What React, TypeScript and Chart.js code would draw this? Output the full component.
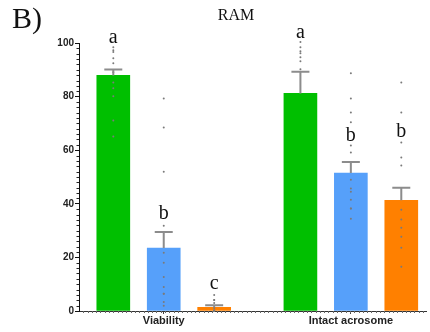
import React, { useEffect, useRef } from "react";
import { Chart, registerables } from "chart.js";

Chart.register(...registerables);

// ---- data ----
const categories = ["Viability", "Intact acrosome"];
const seriesColors = ["#00bf00", "#56a0fa", "#ff8000"];

const greenMean = [87.9, 81.2];
const blueMean = [23.5, 51.5];
const orangeMean = [1.4, 41.3];

const greenSem = [2.2, 8.1];
const blueSem = [6.0, 4.1];
const orangeSem = [0.7, 4.7];

const greenLetters = ["a", "a"];
const blueLetters = ["b", "b"];
const orangeLetters = ["c", "b"];
const greenLetterAt = [99.9, 102];
const blueLetterAt = [34.4, 63.4];
const orangeLetterAt = [8.2, 65];

const greenViabilityPts = [98.4, 97.3, 96.6, 94.3, 92.4, 89.1, 85.3, 83.1, 80.1, 71.1, 65.1];
const blueViabilityPts = [79.3, 68.5, 52.0, 31.8, 21.7, 18.0, 12.7, 9.0, 6.4, 6.4, 3.4, 2.0];
const orangeViabilityPts = [6.0, 4.1, 4.1, 3.0, 1.1, 0.3, 0, 0, 0];
const greenAcrosomePts = [100.4, 98.4, 96.9, 96.2, 94.7, 93.2, 90.2];
const blueAcrosomePts = [88.7, 79.3, 74.1, 70.4, 61.8, 59.1, 49.0, 45.7, 44.5, 41.5, 38.2, 38.2, 34.4];
const orangeAcrosomePts = [85.3, 74.1, 62.9, 57.3, 54.3, 37.8, 34.1, 31.1, 27.7, 23.6, 16.5];

const yTicks = [0, 20, 40, 60, 80, 100];

// x layout in data units (bar slots)
const GROUP_STEP = 3.71;
const X_MIN = -0.68;
const X_MAX = 6.2;

const means = [greenMean, blueMean, orangeMean];
const sems = [greenSem, blueSem, orangeSem];
const letters = [greenLetters, blueLetters, orangeLetters];
const letterAt = [greenLetterAt, blueLetterAt, orangeLetterAt];
const points = [
  [greenViabilityPts, greenAcrosomePts],
  [blueViabilityPts, blueAcrosomePts],
  [orangeViabilityPts, orangeAcrosomePts],
];

const xOf = (g: number, s: number) => g * GROUP_STEP + s;

const overlayPlugin = {
  id: "overlay",
  afterDatasetsDraw(chart: any) {
    const ctx = chart.ctx;
    const ys = chart.scales.y;
    ctx.save();
    for (let s = 0; s < 3; s++) {
      const meta = chart.getDatasetMeta(s);
      meta.data.forEach((bar: any, g: number) => {
        const x = bar.x;
        const y0 = ys.getPixelForValue(means[s][g]);
        const y1 = ys.getPixelForValue(means[s][g] + sems[s][g]);
        ctx.strokeStyle = "#8c8c8c";
        ctx.lineWidth = 2;
        ctx.beginPath();
        ctx.moveTo(x, y0);
        ctx.lineTo(x, y1);
        ctx.moveTo(x - 9, y1);
        ctx.lineTo(x + 9, y1);
        ctx.stroke();
        ctx.fillStyle = "#111";
        ctx.font = "20px 'Liberation Serif', serif";
        ctx.textAlign = "center";
        ctx.textBaseline = "alphabetic";
        ctx.fillText(letters[s][g], x, ys.getPixelForValue(letterAt[s][g]));
      });
    }
    ctx.restore();
  },
  afterDraw(chart: any) {
    const ctx = chart.ctx;
    const ys = chart.scales.y;
    const area = chart.chartArea;
    ctx.save();
    ctx.strokeStyle = "#222";
    ctx.lineWidth = 1;
    ctx.beginPath();
    for (let v = 2; v < 100; v += 2) {
      if (v % 20 === 0) continue;
      const py = Math.round(ys.getPixelForValue(v)) + 0.5;
      ctx.moveTo(area.left - 2.5, py);
      ctx.lineTo(area.left, py);
    }
    ctx.stroke();
    ctx.strokeStyle = "#666";
    ctx.beginPath();
    for (let px = area.left + 4.3; px < area.right; px += 4.3) {
      const rx = Math.round(px) + 0.5;
      ctx.moveTo(rx, area.bottom);
      ctx.lineTo(rx, area.bottom + 2);
    }
    ctx.stroke();
    ctx.fillStyle = "#111";
    ctx.textBaseline = "alphabetic";
    ctx.textAlign = "left";
    ctx.font = "30px 'Liberation Serif', serif";
    ctx.fillText("B)", 12, 28);
    ctx.textAlign = "center";
    ctx.font = "16px 'Liberation Serif', serif";
    ctx.fillText("RAM", 236, 20);
    ctx.restore();
  },
};

export default function App() {
  const canvasRef = useRef<HTMLCanvasElement | null>(null);

  useEffect(() => {
    const canvas = canvasRef.current;
    if (!canvas) return;

    const barSets = [0, 1, 2].map((s) => ({
      type: "bar" as const,
      label: "s" + s,
      data: categories.map((_, g) => ({ x: xOf(g, s), y: means[s][g] })),
      backgroundColor: seriesColors[s],
      borderWidth: 0,
      grouped: false,
      barPercentage: 1,
      categoryPercentage: 1,
      maxBarThickness: 33,
      order: 2,
    }));

    const ptSets: any[] = [];
    for (let s = 0; s < 3; s++) {
      for (let g = 0; g < categories.length; g++) {
        ptSets.push({
          type: "scatter" as const,
          label: "p" + s + g,
          data: points[s][g].map((v) => ({ x: xOf(g, s), y: v })),
          pointRadius: 1,
          pointBackgroundColor: "#7a7a7a",
          pointBorderWidth: 0,
          clip: false,
          order: 1,
        });
      }
    }

    const chart = new Chart(canvas, {
      type: "bar",
      data: { datasets: [...barSets, ...ptSets] as any },
      options: {
        animation: false,
        responsive: false,
        layout: { padding: { top: 43, left: 0, right: 0, bottom: 0 } },
        plugins: {
          legend: { display: false },
          tooltip: { enabled: false },
          title: { display: false },
        },
        scales: {
          x: {
            type: "linear",
            min: X_MIN,
            max: X_MAX,
            offset: false,
            afterBuildTicks: (scale: any) => {
              scale.ticks = categories.map((_, g) => ({ value: xOf(g, 1) }));
            },
            afterFit: (scale: any) => {
              scale.height = 21;
            },
            ticks: {
              autoSkip: false,
              maxRotation: 0,
              padding: 0,
              color: "#222",
              font: { family: "'Liberation Sans', Arial", size: 11, weight: "bold" },
              callback: (_v: any, i: number) => categories[i],
            },
            grid: {
              display: true,
              drawOnChartArea: false,
              tickLength: 3,
              color: "#444",
              offset: false,
            },
            border: { display: true, color: "#333", width: 1 },
          },
          y: {
            type: "linear",
            min: 0,
            max: 100,
            afterBuildTicks: (scale: any) => {
              scale.ticks = yTicks.map((v) => ({ value: v }));
            },
            afterFit: (scale: any) => {
              scale.width = 79;
            },
            ticks: {
              padding: 1,
              color: "#222",
              font: { family: "'Liberation Sans', Arial", size: 10, weight: "bold" },
            },
            grid: {
              display: true,
              drawOnChartArea: false,
              tickLength: 4,
              color: "#111",
            },
            border: { display: true, color: "#111", width: 1 },
          },
        },
      },
      plugins: [overlayPlugin],
    });

    return () => chart.destroy();
  }, []);

  return (
    <div style={{ position: "fixed", left: 0, top: 0, width: 430, height: 332, background: "#fff" }}>
      <canvas ref={canvasRef} width={430} height={332} style={{ display: "block" }} />
    </div>
  );
}
